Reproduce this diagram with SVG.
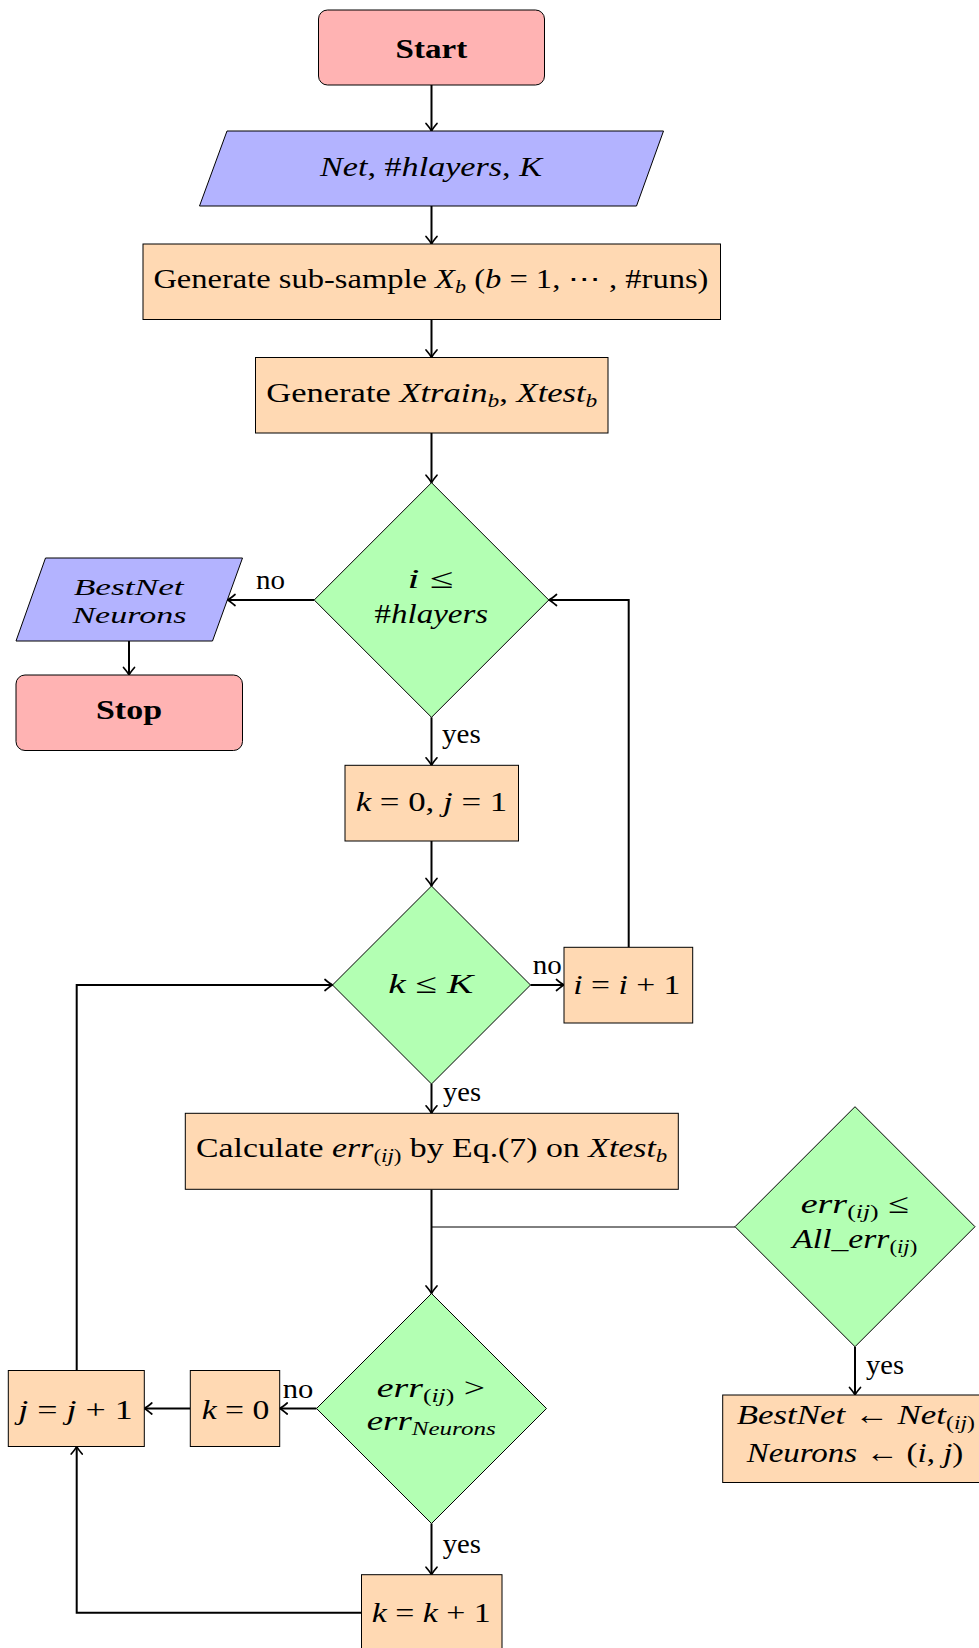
<svg xmlns="http://www.w3.org/2000/svg" width="979" height="1648" viewBox="0 0 979 1648">
<defs>
<style>
.n{stroke:#000;stroke-width:1}
.red{fill:#FFB3B3}
.blue{fill:#B3B3FF}
.org{fill:#FFD9B3}
.grn{fill:#B3FFB3}
text{font-family:"Liberation Serif","Times New Roman",serif;font-size:28px;fill:#000}
.i{font-style:italic}
.b{font-weight:bold}
.s{font-size:19px}
.sm{font-size:24px}
.e{stroke:#000;stroke-width:2;fill:none}
.thin{stroke:#000;stroke-width:1;fill:none}
</style>
<marker id="arr" viewBox="-10 -7 12 14" markerWidth="12" markerHeight="14" refX="0" refY="0" orient="auto" markerUnits="userSpaceOnUse" overflow="visible">
<path d="M-7.5,-5.5 Q-2.5,-1.2 0,0 Q-2.5,1.2 -7.5,5.5" fill="none" stroke="#000" stroke-width="1.7" stroke-linecap="round"/>
</marker>
</defs>
<rect width="979" height="1648" fill="#fff"/>

<g id="connectors">
<path class="e" d="M431.5,85 V131" marker-end="url(#arr)"/>
<path class="e" d="M431.5,206 V244" marker-end="url(#arr)"/>
<path class="e" d="M431.5,319.5 V357.5" marker-end="url(#arr)"/>
<path class="e" d="M431.5,433 V482.7" marker-end="url(#arr)"/>
<path class="e" d="M314,600 H227.5" marker-end="url(#arr)"/>
<path class="e" d="M129,641 V675" marker-end="url(#arr)"/>
<path class="e" d="M431.5,717.3 V765.3" marker-end="url(#arr)"/>
<path class="e" d="M431.5,841 V886" marker-end="url(#arr)"/>
<path class="e" d="M530.5,985 H564" marker-end="url(#arr)"/>
<path class="e" d="M628.7,947.3 V600 H549" marker-end="url(#arr)"/>
<path class="e" d="M431.5,1084 V1113.3" marker-end="url(#arr)"/>
<path class="e" d="M431.5,1189.5 V1293.5" marker-end="url(#arr)"/>
<path class="thin" d="M431.5,1227 H735"/>
<path class="e" d="M855,1346.7 V1395" marker-end="url(#arr)"/>
<path class="e" d="M316.5,1408.5 H279.7" marker-end="url(#arr)"/>
<path class="e" d="M190.3,1408.5 H144.3" marker-end="url(#arr)"/>
<path class="e" d="M76.7,1370.5 V985 H332.5" marker-end="url(#arr)"/>
<path class="e" d="M431.5,1523.5 V1574.7" marker-end="url(#arr)"/>
<path class="e" d="M361.5,1612.8 H76.7 V1446.5" marker-end="url(#arr)"/>
<text x="256" y="589" textLength="29" lengthAdjust="spacingAndGlyphs">no</text>
<text x="442" y="743" textLength="38.7" lengthAdjust="spacingAndGlyphs">yes</text>
<text x="532.7" y="974" textLength="29" lengthAdjust="spacingAndGlyphs">no</text>
<text x="443" y="1101" textLength="38" lengthAdjust="spacingAndGlyphs">yes</text>
<text x="866" y="1374" textLength="38" lengthAdjust="spacingAndGlyphs">yes</text>
<text x="282.7" y="1398" textLength="30.6" lengthAdjust="spacingAndGlyphs">no</text>
<text x="442.7" y="1553" textLength="38.3" lengthAdjust="spacingAndGlyphs">yes</text>
</g>

<g id="start">
<rect class="n red" x="318.5" y="10" width="226" height="75" rx="9"/>
<text class="b" x="395.6" y="58" textLength="71.6" lengthAdjust="spacingAndGlyphs">Start</text>
</g>

<g id="input">
<polygon class="n blue" points="227,131 663.5,131 636.5,206 199.5,206"/>
<text x="320" y="176" textLength="222" lengthAdjust="spacingAndGlyphs"><tspan class="i">Net</tspan>, #<tspan class="i">hlayers</tspan>, <tspan class="i">K</tspan></text>
</g>

<g id="subsample">
<rect class="n org" x="143" y="244" width="577.5" height="75.5"/>
<text x="153.4" y="288.3" textLength="555" lengthAdjust="spacingAndGlyphs">Generate sub-sample <tspan class="i">X</tspan><tspan class="i s" dy="5">b</tspan><tspan dy="-5"> (</tspan><tspan class="i">b</tspan> = 1, ⋯ , #runs)</text>
</g>

<g id="split">
<rect class="n org" x="255.5" y="357.5" width="352.5" height="75.5"/>
<text x="266.3" y="401.7" textLength="331" lengthAdjust="spacingAndGlyphs">Generate <tspan class="i">Xtrain</tspan><tspan class="i s" dy="5">b</tspan><tspan dy="-5">, </tspan><tspan class="i">Xtest</tspan><tspan class="i s" dy="5">b</tspan></text>
</g>

<g id="cond-layers">
<polygon class="n grn" points="431.5,482.7 548.8,600 431.5,717.3 314.2,600"/>
<text x="407.4" y="588" textLength="46.3" lengthAdjust="spacingAndGlyphs"><tspan class="i">i</tspan> ≤</text>
<text x="374.6" y="623.3" textLength="113.6" lengthAdjust="spacingAndGlyphs">#<tspan class="i">hlayers</tspan></text>
</g>

<g id="output">
<polygon class="n blue" points="45.5,558 242.5,558 212.5,641 16,641"/>
<text class="i sm" x="73.7" y="594.7" textLength="110" lengthAdjust="spacingAndGlyphs">BestNet</text>
<text class="i sm" x="72.4" y="622.7" textLength="114" lengthAdjust="spacingAndGlyphs">Neurons</text>
</g>

<g id="stop">
<rect class="n red" x="16" y="675" width="226.5" height="75.5" rx="9"/>
<text class="b" x="96" y="719.3" textLength="66" lengthAdjust="spacingAndGlyphs">Stop</text>
</g>

<g id="init-kj">
<rect class="n org" x="345" y="765.3" width="173.5" height="75.7"/>
<text x="355.7" y="810.7" textLength="151.5" lengthAdjust="spacingAndGlyphs"><tspan class="i">k</tspan> = 0, <tspan class="i">j</tspan> = 1</text>
</g>

<g id="cond-k">
<polygon class="n grn" points="431.5,886 530.5,985 431.5,1084 332.5,985"/>
<text x="388.3" y="993.3" textLength="85" lengthAdjust="spacingAndGlyphs"><tspan class="i">k</tspan> ≤ <tspan class="i">K</tspan></text>
</g>

<g id="inc-i">
<rect class="n org" x="564" y="947.3" width="128.7" height="75.7"/>
<text x="573.3" y="994" textLength="107" lengthAdjust="spacingAndGlyphs"><tspan class="i">i</tspan> = <tspan class="i">i</tspan> + 1</text>
</g>

<g id="calc">
<rect class="n org" x="185.3" y="1113.3" width="493" height="76"/>
<text x="196" y="1157" textLength="471.3" lengthAdjust="spacingAndGlyphs">Calculate <tspan class="i">err</tspan><tspan class="s" dy="5">(<tspan class="i">ij</tspan>)</tspan><tspan dy="-5"> by Eq.(7) on </tspan><tspan class="i">Xtest</tspan><tspan class="i s" dy="5">b</tspan></text>
</g>

<g id="cond-all">
<polygon class="n grn" points="855,1106.7 975,1226.7 855,1346.7 735,1226.7"/>
<text x="800.7" y="1213.3" textLength="108.3" lengthAdjust="spacingAndGlyphs"><tspan class="i">err</tspan><tspan class="s" dy="5">(<tspan class="i">ij</tspan>)</tspan><tspan dy="-5"> ≤</tspan></text>
<text x="792.3" y="1248.3" textLength="125" lengthAdjust="spacingAndGlyphs"><tspan class="i">All</tspan>_<tspan class="i">err</tspan><tspan class="s" dy="5">(<tspan class="i">ij</tspan>)</tspan></text>
</g>

<g id="best">
<rect class="n org" x="722.7" y="1395" width="280" height="87.5"/>
<text x="736.7" y="1424" textLength="238.3" lengthAdjust="spacingAndGlyphs"><tspan class="i">BestNet</tspan> ← <tspan class="i">Net</tspan><tspan class="s" dy="5">(<tspan class="i">ij</tspan>)</tspan></text>
<text x="746.7" y="1461.7" textLength="216.6" lengthAdjust="spacingAndGlyphs"><tspan class="i">Neurons</tspan> ← (<tspan class="i">i</tspan>, <tspan class="i">j</tspan>)</text>
</g>

<g id="cond-neurons">
<polygon class="n grn" points="431.5,1293.5 546.5,1408.5 431.5,1523.5 316.5,1408.5"/>
<text x="376.7" y="1397" textLength="108.3" lengthAdjust="spacingAndGlyphs"><tspan class="i">err</tspan><tspan class="s" dy="5">(<tspan class="i">ij</tspan>)</tspan><tspan dy="-5"> &gt;</tspan></text>
<text x="366.7" y="1430.3" textLength="129" lengthAdjust="spacingAndGlyphs"><tspan class="i">err</tspan><tspan class="i s" dy="5">Neurons</tspan></text>
</g>

<g id="reset-k">
<rect class="n org" x="190.3" y="1370.5" width="89.4" height="76"/>
<text x="201.7" y="1418.8" textLength="67.6" lengthAdjust="spacingAndGlyphs"><tspan class="i">k</tspan> = 0</text>
</g>

<g id="inc-j">
<rect class="n org" x="8.3" y="1370.5" width="136" height="76"/>
<text x="18.3" y="1418.8" textLength="114.4" lengthAdjust="spacingAndGlyphs"><tspan class="i">j</tspan> = <tspan class="i">j</tspan> + 1</text>
</g>

<g id="inc-k">
<rect class="n org" x="361.5" y="1574.7" width="140.5" height="76"/>
<text x="371.7" y="1621.7" textLength="119" lengthAdjust="spacingAndGlyphs"><tspan class="i">k</tspan> = <tspan class="i">k</tspan> + 1</text>
</g>
</svg>
